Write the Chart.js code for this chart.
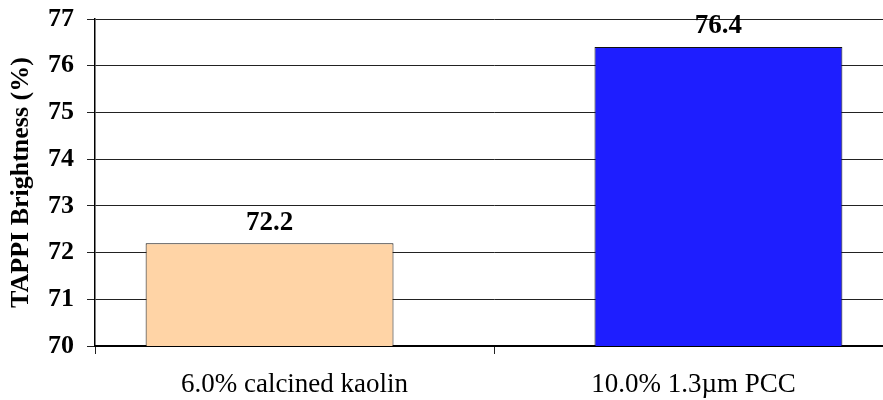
<!DOCTYPE html>
<html>
<head>
<meta charset="utf-8">
<script src="https://cdn.jsdelivr.net/npm/chart.js@4"></script>
<style>
  html, body { margin: 0; padding: 0; background: #fff; overflow: hidden; }
  #wrap { width: 900px; height: 400px; }
</style>
</head>
<body>
<div id="wrap"><canvas id="brightChart"></canvas></div>
<script>
const categories = ['6.0% calcined kaolin', '10.0% 1.3\u00B5m PCC'];
const kaolinValues = [72.2, null];
const pccValues = [null, 76.4];
const yTicks = [70, 71, 72, 73, 74, 75, 76, 77];

const serif = '"Liberation Serif", "Times New Roman", serif';

// writes each bar's value above it
const valueLabels = {
  id: 'valueLabels',
  afterDatasetsDraw(chart) {
    const ctx = chart.ctx;
    ctx.save();
    ctx.font = 'bold 27px ' + serif;
    ctx.fillStyle = '#000';
    ctx.textAlign = 'center';
    ctx.textBaseline = 'bottom';
    chart.data.datasets.forEach((ds, i) => {
      chart.getDatasetMeta(i).data.forEach((bar, j) => {
        const v = ds.data[j];
        if (v == null) return;
        ctx.fillText(v.toFixed(1), bar.x, bar.y - 7);
      });
    });
    ctx.restore();
  }
};

new Chart(document.getElementById('brightChart'), {
  type: 'bar',
  data: {
    labels: categories,
    datasets: [
      {
        label: 'kaolin',
        data: kaolinValues,
        backgroundColor: '#FFD4A6',
        borderColor: '#111',
        borderWidth: 1,
        borderSkipped: false
      },
      {
        label: 'PCC',
        data: pccValues,
        backgroundColor: '#1E1EFF',
        borderColor: '#111',
        borderWidth: 1,
        borderSkipped: false
      }
    ]
  },
  options: {
    responsive: true,
    maintainAspectRatio: false,
    animation: false,
    categoryPercentage: 0.25,
    barPercentage: 4.97,
    layout: { padding: { top: 19, right: 7, left: 0, bottom: 0 } },
    plugins: {
      legend: { display: false },
      tooltip: { enabled: false }
    },
    scales: {
      x: {
        grid: { offset: true, drawOnChartArea: false, drawTicks: true, tickLength: 8, color: '#222', lineWidth: 1 },
        border: { display: true, color: '#000', width: 2 },
        ticks: { color: '#000', padding: 15, font: { family: serif, size: 27 } },
        afterFit(scale) { scale.height = 54; }
      },
      y: {
        min: yTicks[0],
        max: yTicks[yTicks.length - 1],
        afterBuildTicks(scale) { scale.ticks = yTicks.map(v => ({ value: v })); },
        grid: { drawTicks: true, tickLength: 8, color: '#222', lineWidth: 1 },
        border: { display: true, color: '#000', width: 1.5 },
        ticks: { color: '#000', padding: 13, font: { family: serif, size: 26, weight: 'bold' } },
        title: {
          display: true,
          text: 'TAPPI Brightness (%)',
          color: '#000',
          padding: { top: 6, bottom: 0 },
          font: { family: serif, size: 26, weight: 'bold' }
        },
        afterFit(scale) {
          scale.width = 95;
          scale.paddingTop = 0;
          scale.paddingBottom = 0;
        }
      }
    }
  },
  plugins: [valueLabels]
});
</script>
</body>
</html>
